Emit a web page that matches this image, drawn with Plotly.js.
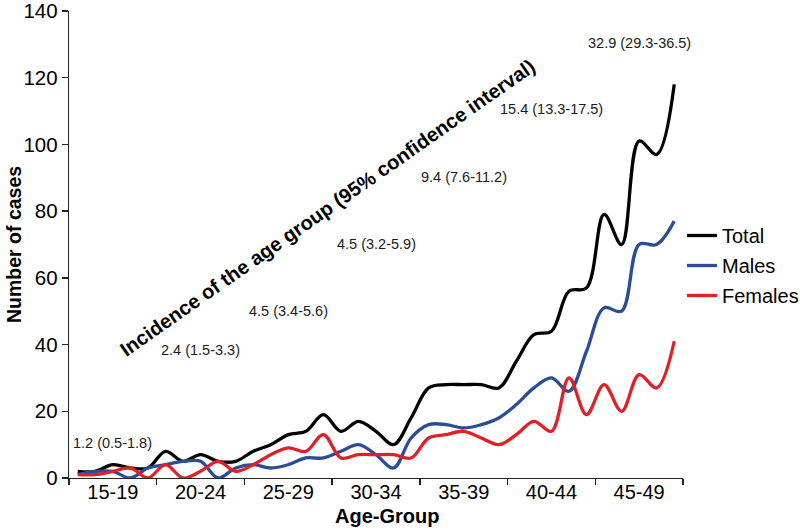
<!DOCTYPE html>
<html>
<head>
<meta charset="utf-8">
<script src="https://cdn.plot.ly/plotly-3.0.1.min.js"></script>
<style>
  html, body { margin: 0; padding: 0; background: #ffffff; }
  #chart { width: 800px; height: 530px; }
</style>
</head>
<body>
<div id="chart"></div>
<script>
// ---- Data ----
// One value per single year of age, 15 .. 49
var ages = [15,16,17,18,19,20,21,22,23,24,25,26,27,28,29,30,31,32,33,34,35,36,37,38,39,40,41,42,43,44,45,46,47,48,49];
var total   = [2,2,4,3,3,8,5,7,5,5,8,10,13,14,19,14,17,14,10,18,27,28,28,28,27,35,43,44,56,57,79,70,101,97,118];
var males   = [1,2,2,0,3,4,5,5,0,3,4,3,4,6,6,8,10,7,3,12,16,16,15,16,18,22,27,30,26,38,51,50,70,70,77];
var females = [1,1,2,3,0,4,0,2,5,2,4,7,9,8,13,6,7,7,7,6,12,13,14,12,10,13,17,14,30,19,28,20,31,27,41];
var groupLabels = ["15-19","20-24","25-29","30-34","35-39","40-44","45-49"];
var yTickValues = [0,20,40,60,80,100,120,140];
var incidenceLabels = ["1.2 (0.5-1.8)","2.4 (1.5-3.3)","4.5 (3.4-5.6)","4.5 (3.2-5.9)","9.4 (7.6-11.2)","15.4 (13.3-17.5)","32.9 (29.3-36.5)"];

// ---- Derived positions ----
var firstAge = ages[0];
var xs = ages.map(function(a){ return a - firstAge + 0.5; });
var nAges = ages.length;
var groupSize = 5;
var groupBounds = [];
for (var b = 0; b <= groupLabels.length; b++) groupBounds.push(b * groupSize);
var groupCenters = groupLabels.map(function(_, i){ return i * groupSize + groupSize / 2; });

var FONT = "Liberation Sans, Arial, sans-serif";

function lineTrace(y, name, color) {
  return {
    x: xs, y: y, name: name, type: "scatter", mode: "lines",
    line: { color: color, width: 3.3, shape: "spline", smoothing: 1 },
    legendgroup: name, hoverinfo: "skip"
  };
}

var traces = [
  lineTrace(total, "Total", "#000000"),
  lineTrace(males, "Males", "#2C4D96"),
  lineTrace(females, "Females", "#E11F26")
];

var M = { l: 69, r: 117, t: 11, b: 52, autoexpand: false };
var W = 800, H = 530;
var pw = W - M.l - M.r, ph = H - M.t - M.b;
function px2paperX(px){ return (px - M.l) / pw; }
function px2paperY(py){ return (H - M.b - py) / ph; }

// incidence labels: vertical placement (layout, in data units)
var labelY = [10.5, 38.5, 50.2, 70.2, 90.3, 110.6, 130.3];
var annotations = incidenceLabels.map(function(t, i){
  return { x: groupCenters[i], y: labelY[i], xref: "x", yref: "y", text: t,
           showarrow: false, font: { family: FONT, size: 14.5, color: "#1a1a1a" },
           xanchor: "center", yanchor: "middle" };
});
annotations.push({
  x: px2paperX(327), y: px2paperY(208), xref: "paper", yref: "paper",
  text: "<b>Incidence of the age group (95% confidence interval)</b>",
  showarrow: false, textangle: -35, font: { family: FONT, size: 20, color: "#000" },
  xanchor: "center", yanchor: "middle"
});
annotations.push({
  x: px2paperX(387), y: px2paperY(516), xref: "paper", yref: "paper",
  text: "<b>Age-Group</b>", showarrow: false, font: { family: FONT, size: 20, color: "#000" },
  xanchor: "center", yanchor: "middle"
});
annotations.push({
  x: px2paperX(14), y: px2paperY(245), xref: "paper", yref: "paper",
  text: "<b>Number of cases</b>", showarrow: false, textangle: -90,
  font: { family: FONT, size: 19.5, color: "#000" },
  xanchor: "center", yanchor: "middle"
});

var layout = {
  width: W, height: H,
  margin: M,
  paper_bgcolor: "#ffffff", plot_bgcolor: "#ffffff",
  font: { family: FONT, color: "#000" },
  showlegend: true,
  legend: {
    x: px2paperX(682), y: px2paperY(216), xanchor: "left", yanchor: "top",
    font: { family: FONT, size: 20, color: "#000" },
    bgcolor: "rgba(0,0,0,0)", borderwidth: 0,
    traceorder: "grouped", tracegroupgap: 1, itemwidth: 30
  },
  xaxis: {
    range: [0, nAges], autorange: false, fixedrange: true,
    tickmode: "array", tickvals: groupBounds, showticklabels: false,
    ticks: "outside", ticklen: 6, tickwidth: 1.3, tickcolor: "#222",
    showline: true, linecolor: "#222", linewidth: 1.3,
    showgrid: false, zeroline: false
  },
  xaxis2: {
    overlaying: "x", anchor: "y", side: "bottom",
    range: [0, nAges], autorange: false, fixedrange: true,
    tickmode: "array", tickvals: groupCenters, ticktext: groupLabels,
    ticks: "", showline: false, showgrid: false, zeroline: false,
    tickfont: { family: FONT, size: 20, color: "#000" }
  },
  yaxis: {
    range: [0, 140], autorange: false, fixedrange: true,
    tickmode: "array", tickvals: yTickValues,
    ticks: "outside", ticklen: 6, tickwidth: 1.3, tickcolor: "#222",
    showline: true, linecolor: "#222", linewidth: 1.3,
    showgrid: false, zeroline: false, ticklabeloverflow: "allow",
    tickfont: { family: FONT, size: 20.5, color: "#000" }
  },
  annotations: annotations
};

// an invisible trace so that xaxis2 is drawn
traces.push({ x: [0], y: [0], xaxis: "x2", yaxis: "y", type: "scatter", mode: "markers",
  marker: { opacity: 0 }, showlegend: false, hoverinfo: "skip" });

Plotly.newPlot("chart", traces, layout, { staticPlot: true, displayModeBar: false });
</script>
</body>
</html>
